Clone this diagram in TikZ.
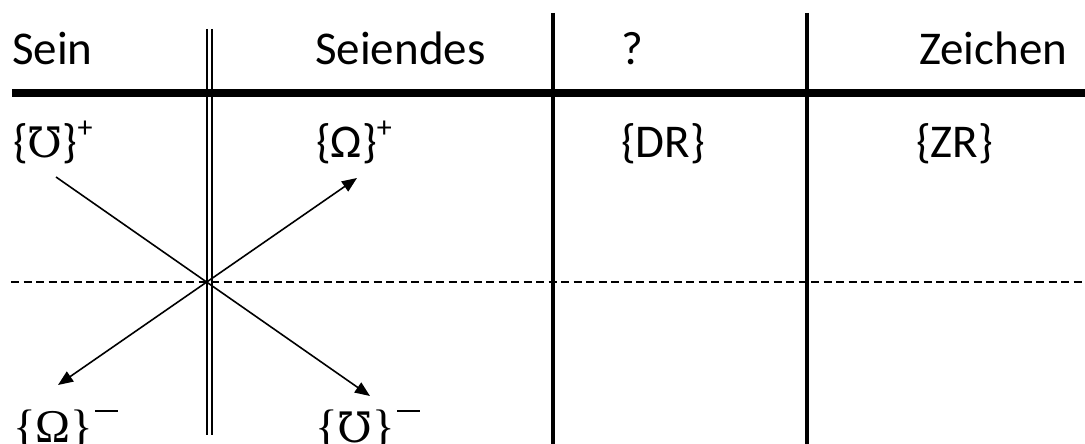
\documentclass[tikz,border=0pt]{standalone}
\usepackage{fontspec}
\setmainfont{Carlito}
\newfontfamily\mhofont{DejaVu Serif}
\newfontfamily\serfont{Liberation Serif}
\usetikzlibrary{arrows.meta}
\newcommand{\supbar}{\hspace{2pt}\raisebox{30pt}{\rule{23pt}{1.6pt}}}
\newcommand{\supplus}{\raisebox{20pt}{\fontsize{30}{30}\selectfont +}}
\begin{document}
\begin{tikzpicture}[x=1pt,y=-1pt,
  lbl/.style={anchor=base west,inner sep=0pt,font=\fontsize{47}{56}\selectfont},
  thickrule/.style={line width=8pt},
  vrule/.style={line width=4.5pt},
  dblrule/.style={line width=2pt},
  divider/.style={line width=1.8pt,dash pattern=on 8pt off 4.5pt},
  arr/.style={line width=1.6pt,-{Triangle[length=15pt,width=12pt]}},
  darr/.style={line width=1.6pt,{Triangle[length=15pt,width=12pt]}-{Triangle[length=15pt,width=12pt]}}]
\useasboundingbox (0,0) rectangle (1085,444);
\clip (0,0) rectangle (1085,444);
% header labels
\node[lbl] (sein) at (12,65) {Sein};
\node[lbl] (seiendes) at (315,65) {Seiendes};
\node[lbl] (q) at (621,65) {?};
\node[lbl] (zeichen) at (919,65) {Zeichen};
% first row
\node[lbl] (mhoplus) at (13,157) {\{{\mhofont\fontsize{42}{50}\selectfont ℧}\}\supplus};
\node[lbl] (omplus) at (316,157) {\{Ω\}\supplus};
\node[lbl] (dr) at (621,157) {\{DR\}};
\node[lbl] (zr) at (916,157) {\{ZR\}};
% bottom row
\node[lbl] (omminus) at (13,442) {\serfont\{Ω\}\supbar};
\node[lbl] (mhominus) at (315,442) {\serfont\{{\mhofont\fontsize{42}{50}\selectfont ℧}\}\supbar};
% rules
\coordinate (hl) at (12,93);
\coordinate (hr) at (1085,93);
\draw[thickrule] (hl) -- (hr);
\coordinate (d1t) at (206.5,29);
\coordinate (d1b) at (206.5,435);
\coordinate (d2t) at (211.5,29);
\coordinate (d2b) at (211.5,435);
\draw[dblrule] (d1t) -- (d1b);
\draw[dblrule] (d2t) -- (d2b);
\coordinate (v1t) at (553,13);
\coordinate (v1b) at (553,444);
\coordinate (v2t) at (807,13);
\coordinate (v2b) at (807,444);
\draw[vrule] (v1t) -- (v1b);
\draw[vrule] (v2t) -- (v2b);
\coordinate (dl) at (11,282);
\coordinate (dr2) at (1085,282);
\draw[divider] (dl) -- (dr2);
% arrows
\coordinate (a1s) at (56,177);
\coordinate (a1e) at (370,396);
\coordinate (a2s) at (58,385);
\coordinate (a2e) at (357,178);
\draw[arr] (a1s) -- (a1e);
\draw[darr] (a2s) -- (a2e);
\end{tikzpicture}
\end{document}
